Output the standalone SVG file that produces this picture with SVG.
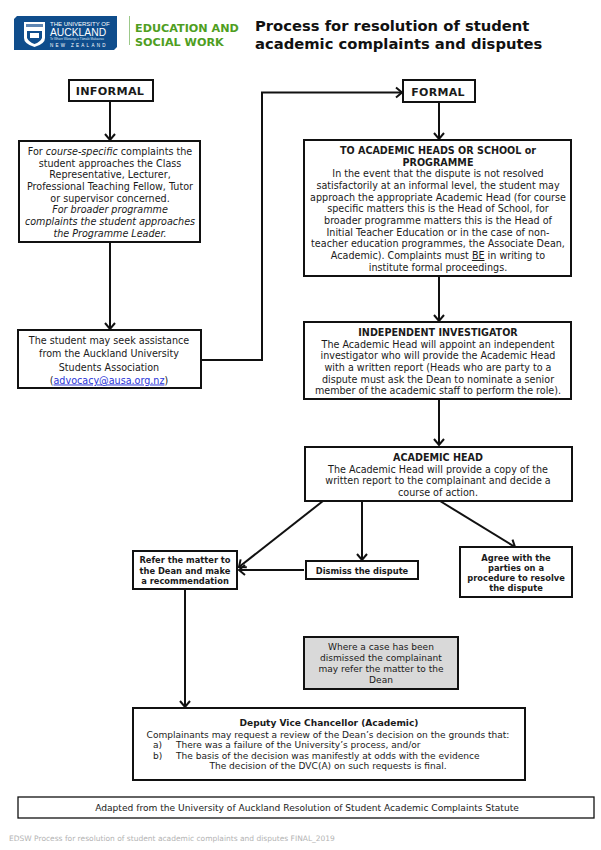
<svg xmlns="http://www.w3.org/2000/svg" width="601" height="850" viewBox="0 0 601 850">
<style>
text{font-family:"DejaVu Sans",Verdana,sans-serif;font-size:9.6px;fill:#1a1a1a;text-anchor:middle}
.b{font-weight:bold}
.i{font-style:italic}
.s{font-size:8.3px}
.n{font-size:9.05px}
.box{fill:#fff;stroke:#111;stroke-width:2}
.l{text-anchor:start}
.conn{fill:none;stroke:#111;stroke-width:2}
</style>
<defs>
<marker id="arr" markerUnits="userSpaceOnUse" markerWidth="14" markerHeight="14" refX="10" refY="7" orient="auto">
<path d="M4 2L10 7L4 12" fill="none" stroke="#111" stroke-width="2"/>
</marker>
</defs>
<rect width="601" height="850" fill="#fff"/>
<g id="logo">
<path d="M17 16H117V47L114 50H14V19Z" fill="#0f4d8c"/>
<path d="M24 22H45V38Q45 44 34.500 47Q24 44 24 38Z" fill="#fff"/>
<path d="M26 24H43V27H26Z" fill="#5f86b3"/>
<path d="M27 31H42V38Q40 42 34.500 44Q29 42 27 38Z" fill="#0f4d8c"/>
<path d="M30 33H39V38H30Z" fill="#fff"/>
<text x="50" y="25.500" class="l" style="font-family:'Liberation Sans';font-size:6px;fill:#fff">THE UNIVERSITY OF</text>
<text x="50" y="35.500" class="l" style="font-family:'Liberation Sans';font-size:10.300px;fill:#fff">AUCKLAND</text>
<text x="50" y="40" class="l" style="font-family:'Liberation Sans';font-size:3px;fill:#dbe6f2">Te Whare Wānanga o Tāmaki Makaurau</text>
<text x="50" y="46.500" class="l" style="font-family:'Liberation Sans';font-size:4.500px;letter-spacing:2.300px;fill:#fff">NEW ZEALAND</text>
</g>
<g id="faculty">
<path d="M129.500 16V45" stroke="#9cc98a" stroke-width="1"/>
<text x="135" y="32" class="b l" style="font-size:11.200px;fill:#4f9e1f">EDUCATION AND</text>
<text x="135" y="45.500" class="b l" style="font-size:11.200px;fill:#4f9e1f">SOCIAL WORK</text>
</g>
<g id="title">
<text x="255" y="31" class="b l" style="font-size:14.750px;fill:#111">Process for resolution of student</text>
<text x="255" y="49" class="b l" style="font-size:14.750px;fill:#111">academic complaints and disputes</text>
</g>
<g id="connectors">
<path class="conn" d="M110 101V140" marker-end="url(#arr)"/>
<path class="conn" d="M110 242V329" marker-end="url(#arr)"/>
<path class="conn" d="M201 360H262V92.500H402" marker-end="url(#arr)"/>
<path class="conn" d="M439 102V139" marker-end="url(#arr)"/>
<path class="conn" d="M439 276V321" marker-end="url(#arr)"/>
<path class="conn" d="M439 399V445" marker-end="url(#arr)"/>
<path class="conn" d="M323 501L239 567" marker-end="url(#arr)"/>
<path class="conn" d="M362 501V560" marker-end="url(#arr)"/>
<path class="conn" d="M304 570H239" marker-end="url(#arr)"/>
<path class="conn" d="M440 501L515 547" marker-end="url(#arr)"/>
<path class="conn" d="M185 589V707" marker-end="url(#arr)"/>
</g>
<g id="informal">
<rect class="box" x="69" y="80" width="84" height="21"/>
<text x="110" y="95" class="b" style="font-size:11.200px;letter-spacing:.3px">INFORMAL</text>
</g>
<g id="formal">
<rect class="box" x="403" y="80" width="72" height="22"/>
<text x="438" y="96" class="b" style="font-size:11px;letter-spacing:.3px">FORMAL</text>
</g>
<g id="class-rep">
<rect class="box" x="19" y="141" width="181" height="101"/>
<text x="110" y="155"><tspan>For </tspan><tspan class="i">course-specific</tspan><tspan> complaints the</tspan></text>
<text x="110" y="166.500">student approaches the Class</text>
<text x="110" y="178">Representative, Lecturer,</text>
<text x="110" y="190">Professional Teaching Fellow, Tutor</text>
<text x="110" y="201.500">or supervisor concerned.</text>
<text x="110" y="213" class="i">For broader programme</text>
<text x="110" y="225" class="i">complaints the student approaches</text>
<text x="110" y="236.500" class="i">the Programme Leader.</text>
</g>
<g id="association">
<rect class="box" x="18" y="330" width="183" height="58"/>
<text x="109" y="343.500">The student may seek assistance</text>
<text x="109" y="356.500">from the Auckland University</text>
<text x="109" y="370.500">Students Association</text>
<text x="109" y="383.500">(<tspan style="fill:#2b35d8;text-decoration:underline">advocacy@ausa.org.nz</tspan>)</text>
</g>
<g id="academic-heads">
<rect class="box" x="304" y="140" width="267" height="136"/>
<text x="438" y="154" class="b">TO ACADEMIC HEADS OR SCHOOL or</text>
<text x="438" y="165.500" class="b">PROGRAMME</text>
<text x="438" y="177">In the event that the dispute is not resolved</text>
<text x="438" y="189">satisfactorily at an informal level, the student may</text>
<text x="438" y="200.500">approach the appropriate Academic Head (for course</text>
<text x="438" y="212">specific matters this is the Head of School, for</text>
<text x="438" y="224">broader programme matters this is the Head of</text>
<text x="438" y="235.500">Initial Teacher Education or in the case of non-</text>
<text x="438" y="247">teacher education programmes, the Associate Dean,</text>
<text x="438" y="259">Academic). Complaints must <tspan style="text-decoration:underline">BE</tspan> in writing to</text>
<text x="438" y="270.500">institute formal proceedings.</text>
</g>
<g id="investigator">
<rect class="box" x="304" y="322" width="267" height="77"/>
<text x="438" y="336" class="b">INDEPENDENT INVESTIGATOR</text>
<text x="438" y="347.500">The Academic Head will appoint an independent</text>
<text x="438" y="359">investigator who will provide the Academic Head</text>
<text x="438" y="371">with a written report (Heads who are party to a</text>
<text x="438" y="382.500">dispute must ask the Dean to nominate a senior</text>
<text x="438" y="394">member of the academic staff to perform the role).</text>
</g>
<g id="academic-head">
<rect class="box" x="305" y="447" width="267" height="54"/>
<text x="438" y="461" class="b">ACADEMIC HEAD</text>
<text x="438" y="472.500">The Academic Head will provide a copy of the</text>
<text x="438" y="484">written report to the complainant and decide a</text>
<text x="438" y="496">course of action.</text>
</g>
<g id="refer">
<rect class="box" x="133" y="551" width="104" height="38"/>
<text x="185" y="563" class="b s">Refer the matter to</text>
<text x="185" y="574" class="b s">the Dean and make</text>
<text x="185" y="584" class="b s">a recommendation</text>
</g>
<g id="dismiss">
<rect class="box" x="306" y="561" width="112" height="18"/>
<text x="362" y="574" class="b s">Dismiss the dispute</text>
</g>
<g id="agree">
<rect class="box" x="460" y="547" width="112" height="50"/>
<text x="516" y="561" class="b s">Agree with the</text>
<text x="516" y="571" class="b s">parties on a</text>
<text x="516" y="581" class="b s">procedure to resolve</text>
<text x="516" y="591" class="b s">the dispute</text>
</g>
<g id="note">
<rect class="box" x="304" y="637" width="154" height="52" style="fill:#d9d9d9"/>
<text x="381" y="650" class="n">Where a case has been</text>
<text x="381" y="661" class="n">dismissed the complainant</text>
<text x="381" y="672" class="n">may refer the matter to the</text>
<text x="381" y="683" class="n">Dean</text>
</g>
<g id="dvc">
<rect class="box" x="133" y="708" width="392" height="72"/>
<text x="329" y="726" class="b n">Deputy Vice Chancellor (Academic)</text>
<text x="328" y="738" class="n">Complainants may request a review of the Dean’s decision on the grounds that:</text>
<text x="153" y="748" class="l n">a)</text>
<text x="176" y="748" class="l n">There was a failure of the University’s process, and/or</text>
<text x="153" y="759" class="l n">b)</text>
<text x="176" y="759" class="l n">The basis of the decision was manifestly at odds with the evidence</text>
<text x="328" y="769" class="n">The decision of the DVC(A) on such requests is final.</text>
</g>
<g id="adapted">
<rect x="18" y="797" width="576" height="21" style="fill:#fff;stroke:#111;stroke-width:1.300"/>
<text x="307" y="811" style="font-size:9.100px">Adapted from the University of Auckland Resolution of Student Academic Complaints Statute</text>
</g>
<text x="9" y="841" class="l" style="font-size:7.500px;fill:#b3b3b3">EDSW Process for resolution of student academic complaints and disputes FINAL_2019</text>
</svg>
